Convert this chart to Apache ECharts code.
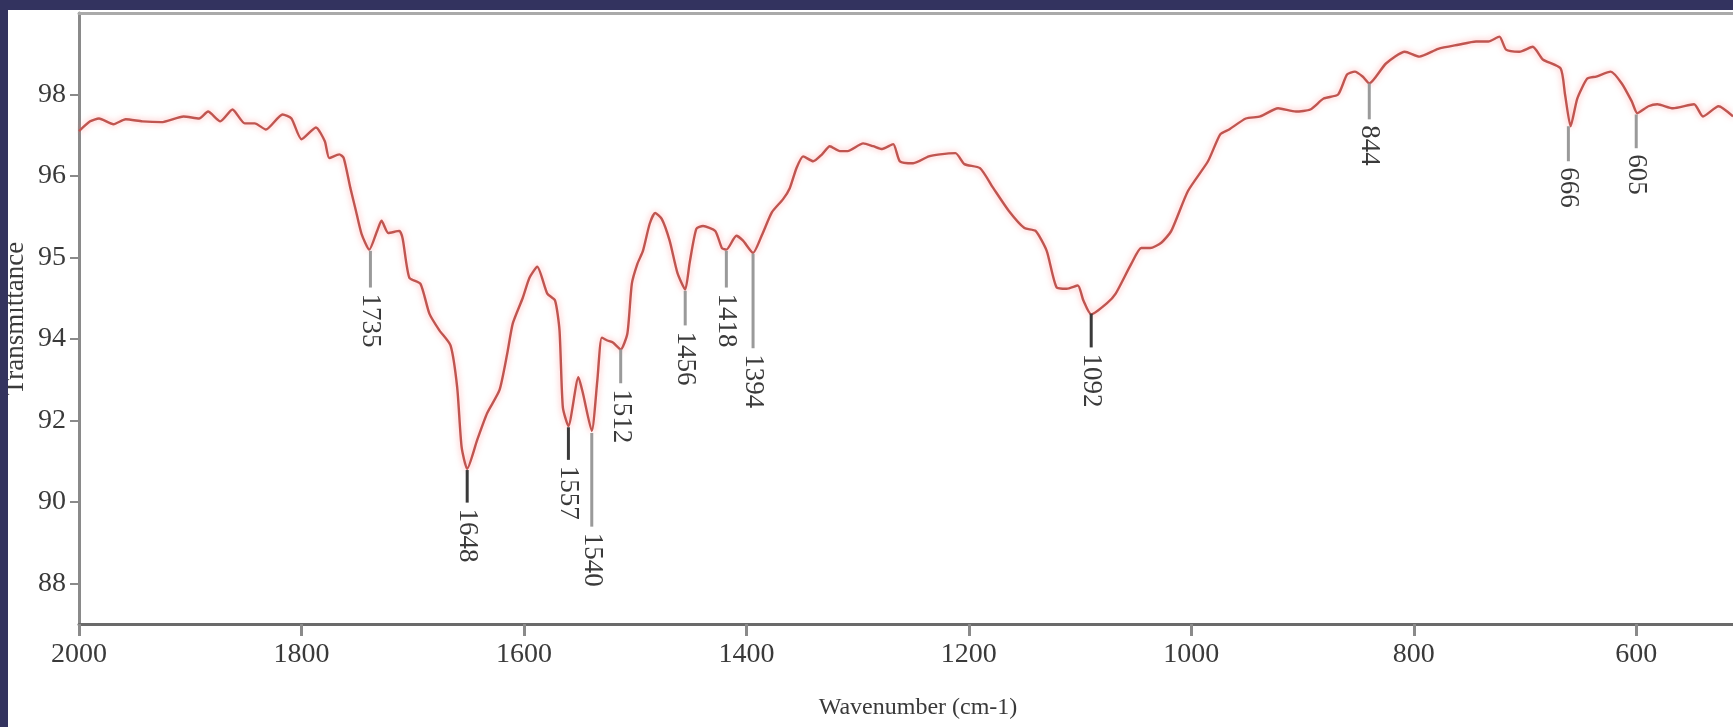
<!DOCTYPE html>
<html>
<head>
<meta charset="utf-8">
<script src="https://cdn.jsdelivr.net/npm/echarts@6/dist/echarts.min.js"></script>
<style>
  html, body { margin: 0; padding: 0; width: 1733px; height: 727px; background: #33335f; overflow: hidden; }
  #chart { position: absolute; left: 8px; top: 10px; width: 1725px; height: 717px; background: #ffffff; }
</style>
</head>
<body>
<div id="chart"></div>
<script>
// Wavenumber (cm-1) of each traced point
const wavenumbers = [2000,1990,1982,1969,1958,1943,1926,1906,1892,1884,1873,1862,1851,1842,1832,1817,1809,1800,1787,1779,1775,1766,1762,1756,1751,1746,1739,1732,1728,1722,1712,1709,1703,1693,1685,1676,1666,1660,1656,1651,1642,1633,1622,1615,1610,1601,1595,1588,1579,1572,1568,1565,1560,1551,1547,1539,1534,1530,1525,1520,1513,1507,1503,1498,1493,1487,1482,1476,1469,1462,1455,1451,1445,1439,1428,1422,1418,1409,1403,1394,1386,1377,1367,1361,1355,1349,1340,1332,1325,1316,1309,1295,1286,1278,1268,1262,1250,1236,1226,1212,1204,1190,1178,1164,1150,1140,1130,1121,1112,1102,1097,1090,1076,1068,1054,1045,1037,1027,1018,1003,985,974,966,951,938,922,906,893,881,868,860,853,846,840,825,808,795,778,760,744,733,723,717,705,693,684,668,664,659,653,644,636,623,613,604,599,589,581,567,548,540,526,513];
// Transmittance, in the axis' linear units (ticks drawn every 2 units)
const transmittance = [97.10,97.34,97.41,97.27,97.39,97.34,97.32,97.46,97.41,97.58,97.34,97.63,97.29,97.29,97.14,97.51,97.41,96.90,97.19,96.85,96.44,96.53,96.44,95.70,95.14,94.58,94.19,94.65,94.90,94.60,94.65,94.46,93.50,93.35,92.62,92.21,91.84,90.81,89.34,88.81,89.52,90.18,90.74,91.64,92.38,93.01,93.50,93.77,93.11,92.94,92.21,90.32,89.86,91.06,90.67,89.74,90.98,92.03,91.96,91.91,91.74,92.13,93.35,93.84,94.16,94.82,95.09,94.94,94.41,93.62,93.21,93.87,94.70,94.77,94.65,94.23,94.19,94.53,94.41,94.11,94.55,95.11,95.43,95.70,96.19,96.48,96.36,96.53,96.73,96.61,96.61,96.80,96.73,96.66,96.78,96.36,96.31,96.48,96.53,96.56,96.29,96.19,95.70,95.14,94.72,94.65,94.16,93.26,93.23,93.31,92.94,92.60,92.87,93.11,93.84,94.23,94.23,94.36,94.65,95.63,96.36,97.02,97.14,97.41,97.46,97.66,97.58,97.63,97.90,98.00,98.49,98.56,98.44,98.27,98.76,99.05,98.93,99.12,99.22,99.30,99.30,99.42,99.10,99.05,99.17,98.86,98.64,98.00,97.22,97.90,98.39,98.44,98.56,98.27,97.83,97.54,97.71,97.76,97.66,97.76,97.46,97.71,97.46];

// Tick values (linear axis units) and the labels printed at them
const yTickValues = [98, 96, 94, 92, 90, 88, 86];
const yTickLabels = ['98', '96', '95', '94', '92', '90', '88'];
const xTickValues = [2000, 1800, 1600, 1400, 1200, 1000, 800, 600];

// Peak annotations: position, label, curve value and leader end value
const peakWn     = [1738, 1651, 1560, 1539, 1513, 1455, 1418, 1394, 1090, 840, 661, 600];
const peakLabels = ['1735','1648','1557','1540','1512','1456','1418','1394','1092','844','666','605'];
const peakTop    = [94.16, 88.78, 89.83, 89.69, 91.74, 93.18, 94.16, 94.09, 92.62, 98.27, 97.22, 97.51];
const peakEnd    = [93.26, 87.98, 89.03, 87.39, 90.91, 92.33, 93.26, 91.77, 91.79, 97.39, 96.36, 96.68];

// style config (kept apart from the data)
const darkLeaders = ['1648', '1557', '1092'];
const FONT = 'Liberation Serif';

const lineData = wavenumbers.map((w, i) => [w, transmittance[i]]);
const peakData = peakWn.map((w, i) => [w, peakTop[i], peakEnd[i]]);

const chart = echarts.init(document.getElementById('chart'), null, { renderer: 'canvas' });
chart.setOption({
  backgroundColor: '#ffffff',
  animation: false,
  grid: { left: 71, right: 0, top: 3, bottom: 103, containLabel: false, outerBoundsMode: 'none' },
  xAxis: [{
    type: 'value', inverse: true, min: 513, max: 2000, position: 'bottom',
    axisLine: { show: true, lineStyle: { color: '#6a6a6a', width: 3 } },
    axisTick: { show: true, customValues: xTickValues, length: 12, lineStyle: { color: '#8a8a8a', width: 3 } },
    axisLabel: { customValues: xTickValues, fontFamily: FONT, fontSize: 28, color: '#3a3a3a', margin: 17,
                 formatter: v => String(v) },
    splitLine: { show: false },
    name: 'Wavenumber (cm-1)', nameLocation: 'middle', nameGap: 72, nameMoveOverlap: false,
    nameTextStyle: { fontFamily: FONT, fontSize: 24, color: '#3a3a3a', padding: [0, 0, 0, 24] }
  }, {
    type: 'value', inverse: true, min: 513, max: 2000, position: 'top',
    axisLine: { show: true, lineStyle: { color: '#aaaaaa', width: 3 } },
    axisTick: { show: false }, axisLabel: { show: false }, splitLine: { show: false }
  }],
  yAxis: {
    type: 'value', min: 85, max: 100,
    axisLine: { show: true, lineStyle: { color: '#8a8a8a', width: 3 } },
    axisTick: { show: true, customValues: yTickValues, length: 9, lineStyle: { color: '#8a8a8a', width: 2 } },
    axisLabel: {
      customValues: yTickValues, fontFamily: FONT, fontSize: 28, color: '#3a3a3a', margin: 13,
      formatter: v => { const i = yTickValues.indexOf(v); return i >= 0 ? yTickLabels[i] : ''; }
    },
    splitLine: { show: false },
    name: 'Transmittance', nameLocation: 'middle', nameGap: 50, nameRotate: 90, nameMoveOverlap: false,
    nameTextStyle: { fontFamily: FONT, fontSize: 27, color: '#3a3a3a' }
  },
  series: [{
    type: 'line', data: lineData, showSymbol: false, smooth: 0.2,
    lineStyle: { color: '#bf5550', width: 2.4, shadowColor: 'rgba(255,110,110,0.6)', shadowBlur: 6 },
    z: 3
  }, {
    type: 'custom', data: peakData, encode: { x: 0, y: [1, 2] }, z: 4,
    renderItem: (params, api) => {
      const x = api.value(0);
      const p1 = api.coord([x, api.value(1)]);
      const p2 = api.coord([x, api.value(2)]);
      const label = peakLabels[params.dataIndex];
      const dark = darkLeaders.indexOf(label) >= 0;
      return {
        type: 'group',
        children: [{
          type: 'line',
          shape: { x1: p1[0], y1: p1[1], x2: p2[0], y2: p2[1] },
          style: { stroke: dark ? '#3a3a3a' : '#9a9a9a', lineWidth: 3 }
        }, {
          type: 'text',
          x: p2[0], y: p2[1] + 6, rotation: -Math.PI / 2,
          style: { text: label, fill: '#3a3a3a', font: '27px "' + FONT + '"', align: 'left', verticalAlign: 'middle' }
        }]
      };
    }
  }]
});
</script>
</body>
</html>
